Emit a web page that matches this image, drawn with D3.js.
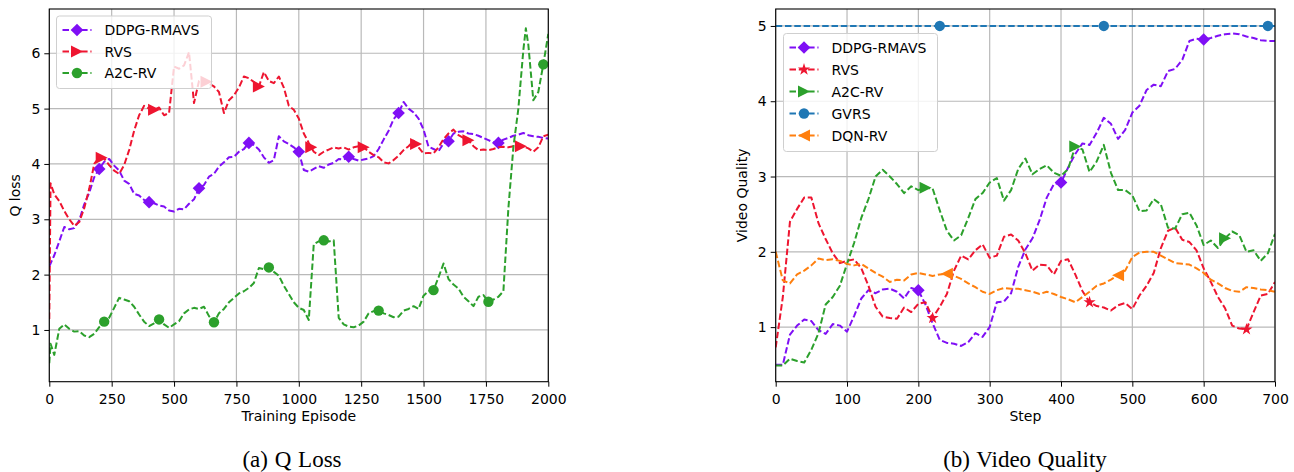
<!DOCTYPE html>
<html><head><meta charset="utf-8">
<script src="https://cdn.jsdelivr.net/npm/d3@7"></script>
<style>body{margin:0;background:#fff}svg{display:block}</style>
</head><body>
<svg id="c" width="1294" height="472"></svg>
<script>
// ---------- Panel (a): Q loss ----------
const episodes = [0,5,20,40,60,80,100,120,140,160,180,200,220,240,260,280,300,320,340,360,380,400,420,440,460,480,500,520,540,560,580,600,620,640,660,680,700,720,740,760,780,800,820,840,860,880,900,920,940,960,980,1000,1020,1040,1060,1080,1100,1120,1140,1160,1180,1200,1220,1240,1260,1280,1300,1320,1340,1360,1380,1400,1420,1440,1460,1480,1500,1520,1540,1560,1580,1600,1620,1640,1660,1680,1700,1720,1740,1760,1780,1800,1820,1840,1860,1880,1900,1910,1920,1940,1960,1980,2000];
const qlossDDPG = [2.15,2.2,2.35,2.6,2.86,2.82,2.84,2.98,3.27,3.48,3.76,3.91,4.04,4.09,3.97,3.88,3.7,3.64,3.46,3.43,3.35,3.31,3.29,3.25,3.23,3.16,3.14,3.19,3.18,3.28,3.36,3.56,3.62,3.77,3.82,3.95,4.03,4.12,4.13,4.22,4.27,4.38,4.34,4.26,4.12,4.02,4.07,4.5,4.41,4.36,4.3,4.22,3.89,3.86,3.91,3.96,3.93,3.99,4.02,4.09,4.08,4.13,4.09,4.06,4.08,4.1,4.14,4.27,4.44,4.6,4.81,4.92,5.12,5.0,4.93,4.82,4.62,4.31,4.27,4.23,4.37,4.41,4.55,4.58,4.59,4.55,4.54,4.51,4.47,4.43,4.39,4.38,4.44,4.47,4.51,4.53,4.56,4.54,4.52,4.5,4.49,4.47,4.46];
const qlossRVS = [1.2,3.65,3.45,3.33,3.15,3.0,2.88,2.95,3.2,3.55,4.0,4.12,4.1,3.98,3.88,3.82,3.98,4.25,4.6,4.88,5.05,5.0,4.98,5.02,4.88,4.92,5.76,5.72,5.78,6.02,5.1,5.5,5.52,5.45,5.4,5.3,4.92,5.15,5.24,5.38,5.58,5.55,5.48,5.4,5.66,5.5,5.46,5.58,5.38,5.05,4.98,4.82,4.55,4.38,4.22,4.16,4.22,4.26,4.3,4.28,4.3,4.26,4.3,4.32,4.3,4.22,4.16,4.12,4.03,4.01,4.07,4.15,4.25,4.32,4.42,4.3,4.19,4.2,4.19,4.3,4.45,4.55,4.62,4.52,4.47,4.43,4.32,4.25,4.26,4.25,4.27,4.3,4.31,4.3,4.32,4.33,4.31,4.3,4.28,4.22,4.3,4.5,4.53];
const qlossA2C = [0.4,0.75,0.55,1.02,1.1,1.02,0.97,0.98,0.9,0.87,0.93,1.05,1.15,1.22,1.4,1.58,1.55,1.52,1.42,1.28,1.15,1.07,1.12,1.19,1.1,1.04,1.1,1.16,1.3,1.37,1.4,1.38,1.42,1.25,1.14,1.3,1.38,1.5,1.58,1.66,1.7,1.76,1.85,2.12,2.1,2.13,2.05,1.98,1.8,1.65,1.5,1.4,1.36,1.18,2.55,2.6,2.62,2.6,2.62,1.22,1.1,1.06,1.05,1.08,1.15,1.3,1.34,1.35,1.3,1.27,1.23,1.24,1.35,1.38,1.43,1.38,1.62,1.7,1.72,1.95,2.2,1.92,1.82,1.75,1.6,1.52,1.43,1.6,1.63,1.51,1.55,1.6,1.7,3.2,4.3,5.0,6.06,6.45,6.15,5.15,5.3,5.8,6.35];
const qlossMarksDDPG = [200,400,600,800,1000,1200,1400,1600,1800];
const qlossMarksRVS = [210,420,630,840,1050,1260,1470,1680,1890];
const qlossMarksA2C = [220,440,660,880,1100,1320,1540,1760,1980];
const qlossXTicks = [0,250,500,750,1000,1250,1500,1750,2000];
const qlossYTicks = [1,2,3,4,5,6];

// ---------- Panel (b): Video quality ----------
const steps = [0,10,20,30,40,50,60,70,80,90,100,110,120,130,140,150,160,170,180,190,200,210,220,230,240,250,260,270,280,290,300,310,320,330,340,350,360,370,380,390,400,410,420,430,440,450,460,470,480,490,500,510,520,530,540,550,560,570,580,590,600,610,620,630,640,650,660,670,680,690,700];
const vqDDPG = [0.5,0.5,0.9,1.02,1.1,1.08,0.96,0.91,1.04,1.02,0.94,1.15,1.38,1.49,1.45,1.5,1.51,1.47,1.38,1.52,1.49,1.3,1.05,0.83,0.79,0.78,0.75,0.8,0.92,0.87,1.0,1.33,1.34,1.45,1.8,2.03,2.18,2.42,2.72,2.9,2.92,3.12,3.3,3.44,3.42,3.58,3.78,3.7,3.5,3.62,3.85,3.94,4.15,4.22,4.2,4.4,4.43,4.55,4.8,4.83,4.82,4.84,4.87,4.89,4.9,4.89,4.86,4.84,4.81,4.8,4.8];
const vqRVS = [0.73,1.4,2.4,2.57,2.72,2.72,2.38,2.17,1.98,1.85,1.88,1.9,1.78,1.55,1.27,1.14,1.12,1.11,1.26,1.2,1.31,1.33,1.12,1.27,1.44,1.75,1.95,1.9,2.02,2.1,1.92,1.95,2.2,2.23,2.15,1.98,1.75,1.83,1.82,1.7,1.88,1.9,1.7,1.48,1.33,1.28,1.26,1.22,1.29,1.32,1.24,1.42,1.55,1.72,2.05,2.28,2.32,2.16,2.13,2.02,1.78,1.6,1.4,1.25,1.02,0.98,0.97,1.2,1.42,1.44,1.6];
const vqA2C = [0.49,0.49,0.58,0.55,0.53,0.7,0.92,1.3,1.4,1.55,1.84,2.12,2.45,2.7,3.0,3.09,3.0,2.9,2.78,2.87,2.82,2.85,2.84,2.55,2.28,2.15,2.22,2.45,2.7,2.78,2.92,2.98,2.68,2.82,3.1,3.24,3.03,3.1,3.15,3.05,3.01,3.1,3.4,3.36,3.06,3.2,3.42,3.05,2.82,2.82,2.75,2.54,2.55,2.7,2.63,2.32,2.31,2.5,2.52,2.35,2.09,2.15,2.05,2.18,2.27,2.22,2.0,2.02,1.88,1.98,2.24];
const vqGVRS = [5,5,5,5,5,5,5,5,5,5,5,5,5,5,5,5,5,5,5,5,5,5,5,5,5,5,5,5,5,5,5,5,5,5,5,5,5,5,5,5,5,5,5,5,5,5,5,5,5,5,5,5,5,5,5,5,5,5,5,5,5,5,5,5,5,5,5,5,5,5,5];
const vqDQN = [2.0,1.62,1.58,1.7,1.75,1.82,1.91,1.89,1.9,1.88,1.84,1.82,1.84,1.78,1.72,1.67,1.6,1.63,1.62,1.7,1.72,1.7,1.68,1.7,1.71,1.68,1.64,1.58,1.53,1.47,1.44,1.49,1.52,1.51,1.51,1.49,1.47,1.44,1.47,1.44,1.4,1.37,1.33,1.4,1.47,1.55,1.58,1.63,1.69,1.75,1.93,1.99,2.0,2.0,1.95,1.9,1.85,1.84,1.83,1.78,1.72,1.63,1.58,1.52,1.48,1.47,1.53,1.52,1.5,1.49,1.47];
const vqMarksDDPG = [200,400,600];
const vqMarksRVS = [220,440,660];
const vqMarksA2C = [210,420,630];
const vqMarksGVRS = [230,460,690];
const vqMarksDQN = [240,480];
const vqXTicks = [0,100,200,300,400,500,600,700];
const vqYTicks = [1,2,3,4,5];

// ---------- drawing ----------
const svg = d3.select('#c');
const FONT = 'DejaVu Sans, sans-serif';
const DASH = '6.5,2.8';
const LW = 2;

function valueAt(xs, ys, x) {
  const i = d3.bisectLeft(xs, x);
  if (i <= 0) return ys[0];
  if (i >= xs.length) return ys[ys.length - 1];
  const x0 = xs[i-1], x1 = xs[i];
  const t = (x - x0) / (x1 - x0);
  return ys[i-1] + t * (ys[i] - ys[i-1]);
}

function markerPath(type) {
  const p = d3.path();
  if (type === 'diamond') { const r = 6.3; p.moveTo(0,-r); p.lineTo(r,0); p.lineTo(0,r); p.lineTo(-r,0); p.closePath(); return p.toString(); }
  if (type === 'right') { const r = 6; p.moveTo(r,0); p.lineTo(-r,-r); p.lineTo(-r,r); p.closePath(); return p.toString(); }
  if (type === 'left') { const r = 6; p.moveTo(-r,0); p.lineTo(r,-r); p.lineTo(r,r); p.closePath(); return p.toString(); }
  if (type === 'circle') return d3.symbol(d3.symbolCircle, Math.PI*5.2*5.2)();
  if (type === 'star') return d3.symbol(d3.symbolStar, 46)();
  return '';
}

function drawPanel(cfg) {
  const x = d3.scaleLinear().domain(cfg.xDomain).range(cfg.xRange);
  const y = d3.scaleLinear().domain(cfg.yDomain).range(cfg.yRange);
  const g = svg.append('g');
  const [L, R] = cfg.xRange, [B, T] = cfg.yRange;
  const clipId = 'clip' + cfg.id;
  svg.append('clipPath').attr('id', clipId).append('rect')
    .attr('x', L).attr('y', T).attr('width', R-L).attr('height', B-T);

  // grid
  g.append('g').selectAll('line').data(cfg.xTicks).join('line')
    .attr('x1', d => x(d)).attr('x2', d => x(d)).attr('y1', T).attr('y2', B)
    .attr('stroke', '#b9b9b9').attr('stroke-width', 1.2);
  g.append('g').selectAll('line').data(cfg.yTicks).join('line')
    .attr('y1', d => y(d)).attr('y2', d => y(d)).attr('x1', L).attr('x2', R)
    .attr('stroke', '#b9b9b9').attr('stroke-width', 1.2);

  // series
  const plot = g.append('g').attr('clip-path', `url(#${clipId})`);
  cfg.series.forEach(s => {
    const line = d3.line().x((d,i) => x(cfg.xs[i])).y(d => y(d));
    plot.append('path').attr('d', line(s.values)).attr('fill', 'none')
      .attr('stroke', s.color).attr('stroke-width', LW).attr('stroke-dasharray', DASH)
      .attr('stroke-linejoin', 'round');
    plot.append('g').selectAll('path').data(s.marks).join('path')
      .attr('d', markerPath(s.marker))
      .attr('transform', d => `translate(${x(d)},${y(valueAt(cfg.xs, s.values, d))})`)
      .attr('fill', s.color);
  });

  // axes
  const ax = g.append('g').attr('transform', `translate(0,${B})`)
    .call(d3.axisBottom(x).tickValues(cfg.xTicks).tickSize(5).tickPadding(4).tickFormat(d3.format('d')));
  const ay = g.append('g').attr('transform', `translate(${L},0)`)
    .call(d3.axisLeft(y).tickValues(cfg.yTicks).tickSize(5).tickPadding(4).tickFormat(d3.format('d')));
  [ax, ay].forEach(a => {
    a.select('.domain').remove();
    a.selectAll('text').attr('font-family', FONT).attr('font-size', 14).attr('fill', '#000');
    a.selectAll('line').attr('stroke', '#000').attr('stroke-width', 1);
  });
  ax.selectAll('text').attr('dy', '0.95em');
  g.append('rect').attr('x', L).attr('y', T).attr('width', R-L).attr('height', B-T)
    .attr('fill', 'none').attr('stroke', '#000').attr('stroke-width', 1.1);

  // axis labels
  g.append('text').attr('x', (L+R)/2).attr('y', 421).attr('text-anchor', 'middle')
    .attr('font-family', FONT).attr('font-size', 14).text(cfg.xLabel);
  g.append('text').attr('transform', `translate(${cfg.yLabelX},${(T+B)/2}) rotate(-90)`)
    .attr('text-anchor', 'middle').attr('font-family', FONT).attr('font-size', 14).text(cfg.yLabel);
  // caption
  g.append('text').attr('x', cfg.captionX).attr('y', 467).attr('text-anchor', 'middle')
    .attr('font-family', 'Liberation Serif, Times New Roman, serif').attr('font-size', 23)
    .attr('word-spacing', 1).text(cfg.caption);

  // legend
  const lg = cfg.legend;
  const leg = g.append('g');
  leg.append('rect').attr('x', lg.x).attr('y', lg.y).attr('width', lg.w)
    .attr('height', lg.rowH * cfg.series.length + 8).attr('rx', 3)
    .attr('fill', '#fff').attr('fill-opacity', 0.8).attr('stroke', '#cfcfcf').attr('stroke-width', 1);
  cfg.series.forEach((s, i) => {
    const cy = lg.y + 14 + i * lg.rowH;
    const x0 = lg.x + 6, x1 = lg.x + 35;
    leg.append('line').attr('x1', x0).attr('x2', x1).attr('y1', cy).attr('y2', cy)
      .attr('stroke', s.color).attr('stroke-width', LW).attr('stroke-dasharray', DASH);
    leg.append('path').attr('d', markerPath(s.marker)).attr('transform', `translate(${(x0+x1)/2},${cy})`).attr('fill', s.color);
    leg.append('text').attr('x', lg.x + 48).attr('y', cy).attr('dy', '0.36em')
      .attr('font-family', FONT).attr('font-size', 14).text(s.name);
  });
}

const PURPLE = '#7f0ff5', RED = '#ee1530', GREEN = '#2ca02c', BLUE = '#1f77b4', ORANGE = '#ff7f0e';

drawPanel({
  id: 'a', xs: episodes, xDomain: [0, 2000], yDomain: [0.065, 6.8],
  xRange: [49.3, 548.3], yRange: [381.7, 9],
  xTicks: qlossXTicks, yTicks: qlossYTicks,
  xLabel: 'Training Episode', yLabel: 'Q loss', yLabelX: 20, caption: '(a) Q Loss', captionX: 292,
  legend: { x: 56.5, y: 16, w: 155, rowH: 21.5 },
  series: [
    { name: 'DDPG-RMAVS', values: qlossDDPG, color: PURPLE, marker: 'diamond', marks: qlossMarksDDPG },
    { name: 'RVS', values: qlossRVS, color: RED, marker: 'right', marks: qlossMarksRVS },
    { name: 'A2C-RV', values: qlossA2C, color: GREEN, marker: 'circle', marks: qlossMarksA2C }
  ]
});

drawPanel({
  id: 'b', xs: steps, xDomain: [0, 700], yDomain: [0.275, 5.225],
  xRange: [775.7, 1275], yRange: [381.7, 9],
  xTicks: vqXTicks, yTicks: vqYTicks,
  xLabel: 'Step', yLabel: 'Video Quality', yLabelX: 747, caption: '(b) Video Quality', captionX: 1025,
  legend: { x: 783.5, y: 33.5, w: 154, rowH: 22 },
  series: [
    { name: 'DDPG-RMAVS', values: vqDDPG, color: PURPLE, marker: 'diamond', marks: vqMarksDDPG },
    { name: 'RVS', values: vqRVS, color: RED, marker: 'star', marks: vqMarksRVS },
    { name: 'A2C-RV', values: vqA2C, color: GREEN, marker: 'right', marks: vqMarksA2C },
    { name: 'GVRS', values: vqGVRS, color: BLUE, marker: 'circle', marks: vqMarksGVRS },
    { name: 'DQN-RV', values: vqDQN, color: ORANGE, marker: 'left', marks: vqMarksDQN }
  ]
});
</script>
</body></html>
